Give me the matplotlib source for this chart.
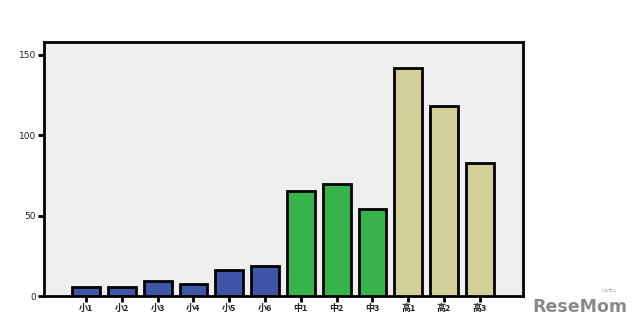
import matplotlib
matplotlib.use("Agg")
import matplotlib.pyplot as plt

plt.rcParams['font.family'] = ['Noto Sans CJK JP', 'DejaVu Sans']

categories = ["小1", "小2", "小3", "小4", "小5", "小6", "中1", "中2", "中3", "高1", "高2", "高3"]
values = [5.5, 5.5, 9.5, 7.5, 16, 18.5, 65.5, 69.5, 54, 142, 118, 82.5]
bar_colors = ["#3f56a6"] * 6 + ["#36b44b"] * 3 + ["#d3cf98"] * 3
y_ticks = [0, 50, 100, 150]

fig = plt.figure(figsize=(6.4, 3.29), dpi=100)
fig.patch.set_facecolor("white")
ax = fig.add_axes([0.069, 0.100, 0.748, 0.772])
ax.set_facecolor("#efefef")

x = list(range(len(categories)))
ax.bar(x, values, width=0.78, color=bar_colors, edgecolor="black", linewidth=2.0, zorder=3)

ax.set_xlim(-1.17, 12.2)
ax.set_ylim(0, 158)
ax.set_xticks(x)
ax.set_xticklabels(categories, fontsize=6.5, color="#222222", fontweight="bold")
ax.set_yticks(y_ticks)
ax.set_yticklabels([str(v) for v in y_ticks], fontsize=6.5, color="#222222", family="DejaVu Sans")
ax.tick_params(axis="both", direction="out", length=4, width=2, color="black", pad=2)

for s in ax.spines.values():
    s.set_linewidth(2)
    s.set_color("black")

fig.text(0.980, 0.040, "ReseMom", ha="right", va="bottom", fontsize=12.5, fontweight="bold",
         color="#8a8a8a", family="DejaVu Sans")
fig.text(0.950, 0.108, "リセマム", ha="center", va="bottom", fontsize=3, color="#8a8a8a")

fig.savefig("out.png", dpi=100)
